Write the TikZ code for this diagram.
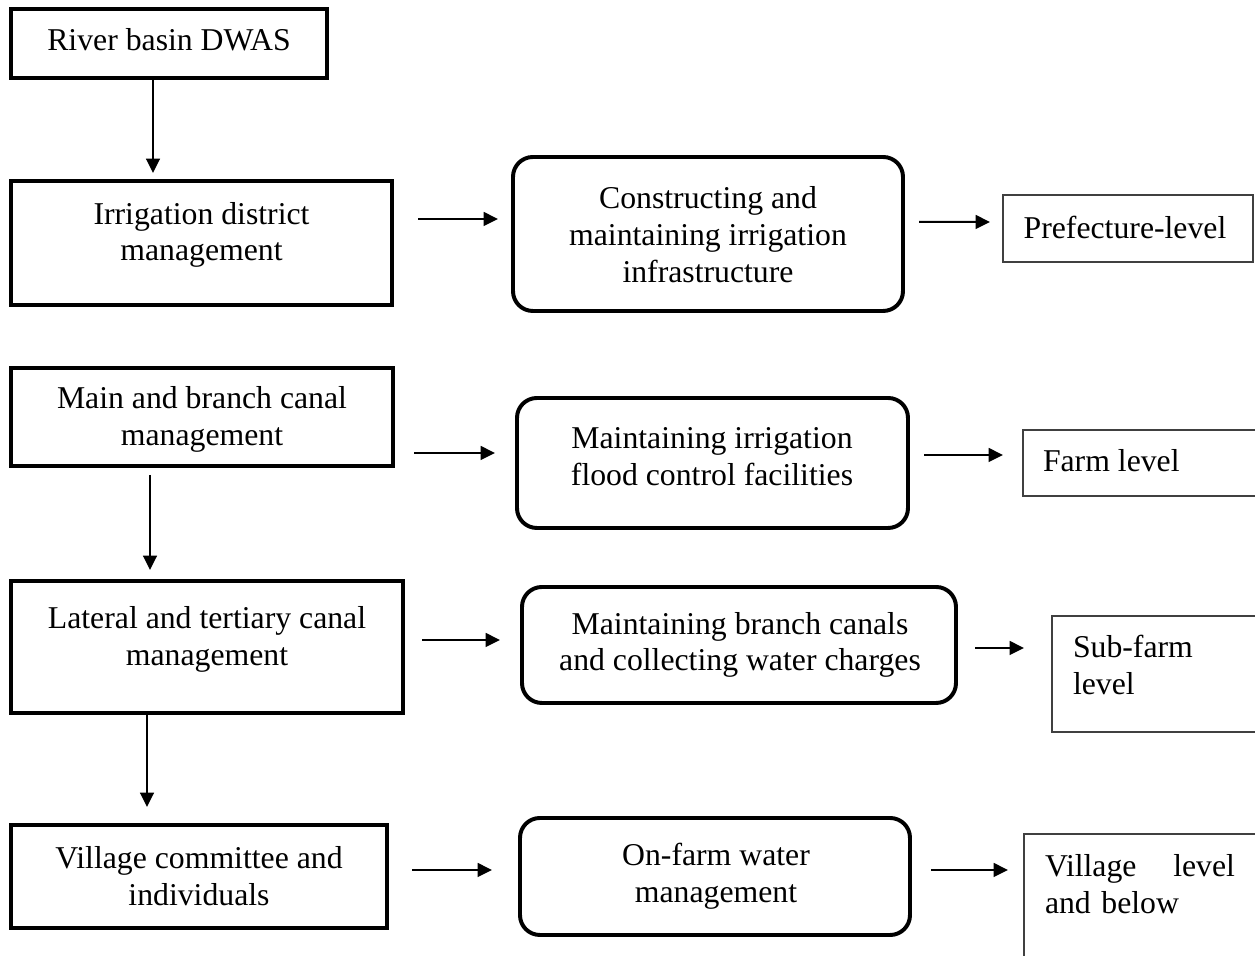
\documentclass[tikz,border=0pt]{standalone}
\usepackage{fontspec}
\setmainfont{Liberation Serif}
\usetikzlibrary{arrows.meta,calc,fit}

\begin{document}
\begin{tikzpicture}[x=0.378pt,y=-0.378pt,
  every node/.style={inner sep=0pt, outer sep=0pt},
  txt/.style={font=\fontsize{12}{13.9}\selectfont, align=center},
  ltxt/.style={font=\fontsize{12}{13.9}\selectfont, align=left, anchor=west},
  levelbox/.style={draw, line width=1.5pt, line join=miter},
  taskbox/.style={draw, line width=1.5pt, rounded corners=7.5pt},
  scopebox/.style={draw=black!75, line width=0.6pt},
  arr/.style={line width=0.75pt, -{Triangle[length=5.4pt,width=5.2pt]}}]

\path[use as bounding box, clip] (0,0) rectangle (1255,956);

% management levels (left column)
\node[levelbox, fit={(11,9)(327,78)}] (river) {};
\node[txt] (rivert) at (169,40) {River basin DWAS};
\node[levelbox, fit={(11,181)(392,305)}] (irr) {};
\node[txt] (irrt) at (201.5,235) {Irrigation district\\management};
\node[levelbox, fit={(11,368)(393,466)}] (main) {};
\node[txt] (maint) at (202,419.5) {Main and branch canal\\management};
\node[levelbox, fit={(11,581)(403,713)}] (lat) {};
\node[txt] (latt) at (207,639.5) {Lateral and tertiary canal\\management};
\node[levelbox, fit={(11,825)(387,928)}] (vil) {};
\node[txt] (vilt) at (199,876.5) {Village committee and\\individuals};

% tasks (middle column)
\node[taskbox, fit={(513,157)(903,311)}] (b1) {};
\node[txt] (b1t) at (708,234.5) {Constructing and\\maintaining irrigation\\infrastructure};
\node[taskbox, fit={(517,398)(908,528)}] (b2) {};
\node[txt] (b2t) at (712,457) {Maintaining irrigation\\flood control facilities};
\node[taskbox, fit={(522,587)(956,703)}] (b3) {};
\node[txt] (b3t) at (740,645) {Maintaining branch canals\\and collecting water charges};
\node[taskbox, fit={(520,818)(910,935)}] (b4) {};
\node[txt] (b4t) at (716,876) {On-farm water\\management};

% administrative scope (right column)
\node[scopebox, fit={(1003,195)(1253,262)}] (r1) {};
\node[txt] (r1t) at (1125,227) {Prefecture-level};
\node[scopebox, fit={(1023,430)(1275,496)}] (r2) {};
\node[ltxt] (r2t) at (1043,461) {Farm level};
\node[scopebox, fit={(1052,616)(1275,732)}] (r3) {};
\node[ltxt] (r3t) at (1073,665) {Sub-farm\\level};
\node[scopebox, fit={(1024,834)(1275,985)}] (r4) {};
\node[ltxt, text width=71.8pt] (r4t) at (1045,884.5) {Village\hfill level\\and below};

% vertical links
\draw[arr] ($(river.south)+(-16,2)$) -- ($(irr.north)+(-48.5,-8)$);
\draw[arr] ($(main.south)+(-52,9)$) -- ($(lat.north)+(-57,-11)$);
\draw[arr] ($(lat.south)+(-60,0)$) -- ($(vil.north)+(-52,-18)$);

% horizontal links
\draw[arr] ($(irr.east)+(26,-24)$) -- ($(b1.west)+(-15,-15)$);
\draw[arr] ($(b1.east)+(16,-12)$) -- ($(r1.west)+(-13,-6.5)$);
\draw[arr] ($(main.east)+(21,36)$) -- ($(b2.west)+(-22,-10)$);
\draw[arr] ($(b2.east)+(16,-8)$) -- ($(r2.west)+(-20,-8)$);
\draw[arr] ($(lat.east)+(19,-7)$) -- ($(b3.west)+(-22,-5)$);
\draw[arr] ($(b3.east)+(19,3)$) -- ($(r3.west)+(-28,-26)$);
\draw[arr] ($(vil.east)+(25,-6.5)$) -- ($(b4.west)+(-28,-6.5)$);
\draw[arr] ($(b4.east)+(21,-6.5)$) -- ($(r4.west)+(-16,-39.5)$);
\end{tikzpicture}
\end{document}
